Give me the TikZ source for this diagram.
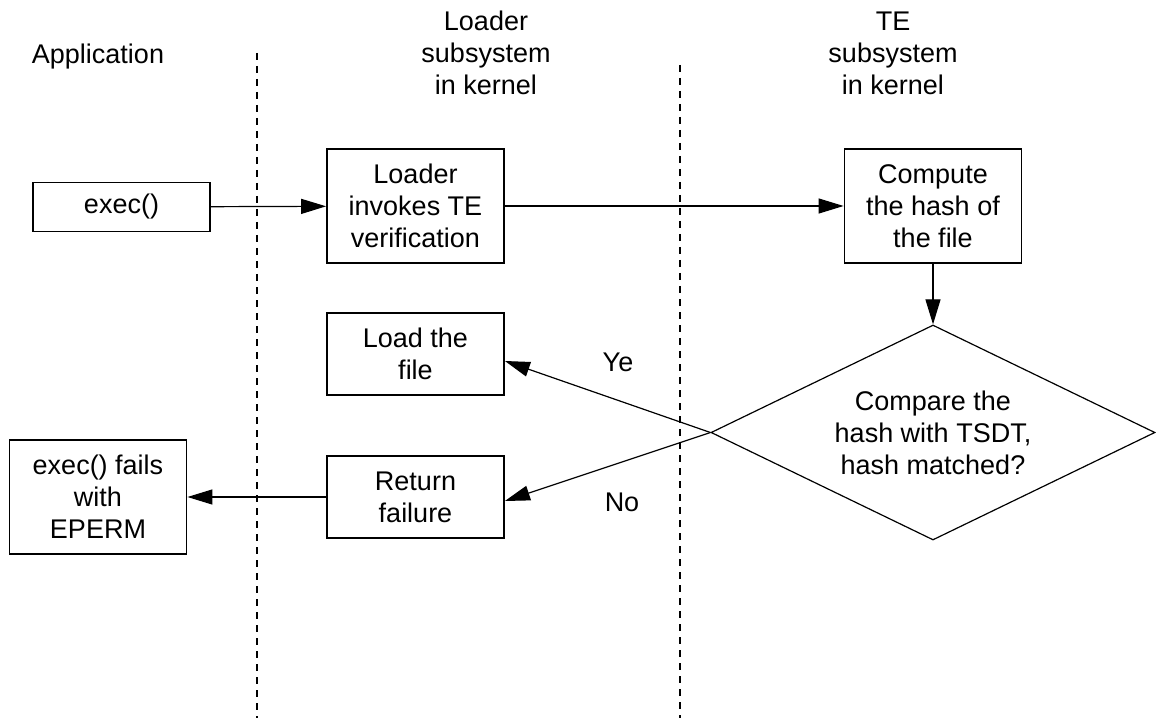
\documentclass[tikz,border=0pt]{standalone}
\usepackage{fontspec}
\setmainfont{Liberation Sans}
\usetikzlibrary{arrows.meta,shapes.geometric}
\begin{document}
\begin{tikzpicture}[x=0.5pt,y=-0.5pt,
  every node/.style={font=\fontsize{13.5}{16}\selectfont, align=center, inner sep=0pt},
  box/.style={draw, line width=0.9pt, minimum width=88.5pt},
  boxthree/.style={box, minimum height=57pt},
  boxtwo/.style={box, minimum height=41pt},
  boxone/.style={box, minimum height=24.5pt},
  arr/.style={line width=0.6pt, -{Triangle[length=12.5pt,width=7.5pt]}},
  lane/.style={dash pattern=on 3.5pt off 3pt, line width=0.6pt}]
\useasboundingbox (0,0) rectangle (1156,727);
\coordinate (l1t) at (257,53); \coordinate (l1b) at (257,718);
\coordinate (l2t) at (680,65); \coordinate (l2b) at (680,718);
\draw[lane] (l1t) -- (l1b);
\draw[lane] (l2t) -- (l2b);
\node (app) at (98,57) {Application};
\node (hl) at (486,53) {Loader\\subsystem\\in kernel};
\node (ht) at (893,53) {TE\\subsystem\\in kernel};
\node[boxone] (exec) at (121.5,207) {exec()};
\node[boxthree] (loader) at (415.5,206) {Loader\\invokes TE\\verification};
\node[boxthree] (compute) at (933,206) {Compute\\the hash of\\the file};
\node[diamond, aspect=2.07, draw, line width=0.6pt, minimum width=222pt, minimum height=107.5pt] (dia) at (933,432.5) {Compare the\\hash with TSDT,\\hash matched?};
\node[boxtwo] (load) at (415.5,354) {Load the\\file};
\node[boxtwo] (ret) at (415.5,497) {Return\\failure};
\node[boxthree] (eperm) at (98,497) {exec() fails\\with\\EPERM};
\node (yes) at (618,362) {Ye};
\node (no) at (622,502) {No};
\draw[arr] (exec) -- (loader);
\draw[arr] (loader) -- (compute);
\draw[arr] (compute) -- (dia);
\draw[arr] (dia.west) -- ([yshift=-3.5pt]load.east);
\draw[arr] (dia.west) -- ([yshift=-2pt]ret.east);
\draw[arr] (ret) -- (eperm);
\end{tikzpicture}
\end{document}
